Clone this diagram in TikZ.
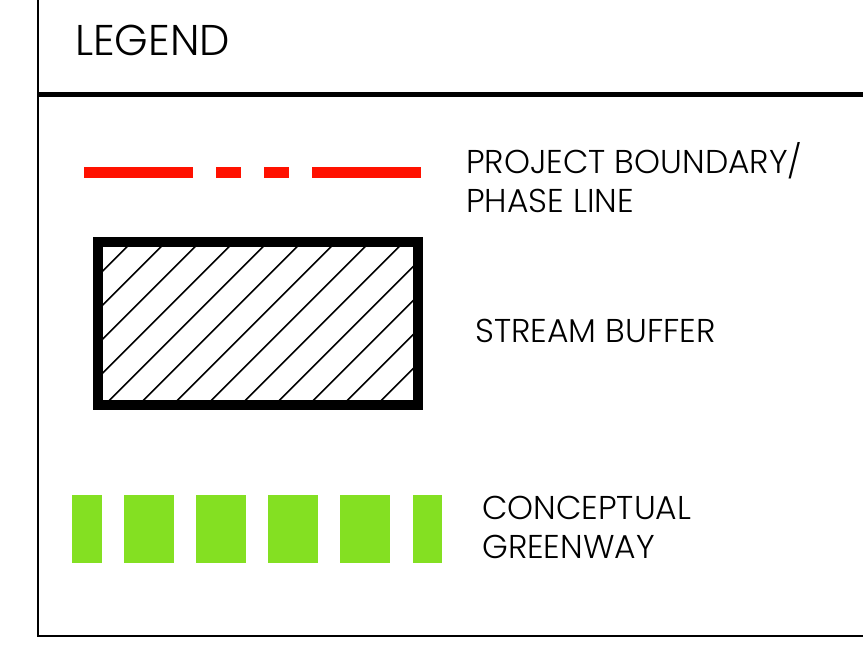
\documentclass[tikz,border=0pt]{standalone}
\usepackage{fontspec}
\setmainfont{Poppins}[UprightFont=* Light]
\definecolor{bndred}{RGB}{255,17,0}
\definecolor{green}{RGB}{132,224,34}
\begin{document}
\begin{tikzpicture}[x=1pt,y=-1pt,
  frame/.style={line width=2pt,black},
  redseg/.style={fill=bndred},
  greenseg/.style={fill=green},
  hatch/.style={line width=1.5pt,black},
  lbl/.style={anchor=base west,inner sep=0pt,font=\fontsize{33}{33}\selectfont},
  title/.style={anchor=base west,inner sep=0pt,font=\fontsize{43}{43}\selectfont}]
\useasboundingbox (0,0) rectangle (863,646);
% frame
\draw[frame] (38,0) -- (38,635.5) -- (863,635.5);
\draw[line width=5pt] (38,94.5) -- (863,94.5);
\node[title] (legend) at (75,55) {LEGEND};
% red boundary
\fill[redseg] (84,167) rectangle (193,178);
\fill[redseg] (216,167) rectangle (241,178);
\fill[redseg] (264,167) rectangle (289,178);
\fill[redseg] (312,167) rectangle (421,178);
\node[lbl] (pb1) at (466,173) {PROJECT BOUNDARY/};
\node[lbl] (pb2) at (466,212) {PHASE LINE};
% hatched buffer
\begin{scope}
\clip (98,242) rectangle (418,405);
\foreach \k in {-1,...,13} {
  \pgfmathsetmacro{\c}{373.7+34*\k}
  \draw[hatch] (\c-410,410) -- (\c-237,237);
}
\end{scope}
\draw[line width=10pt] (98,242) rectangle (418,405);
\node[lbl] (sb) at (475,342) {STREAM BUFFER};
% greenway
\fill[greenseg] (72,495) rectangle (102,563);
\fill[greenseg] (124,495) rectangle (174,563);
\fill[greenseg] (196,495) rectangle (246,563);
\fill[greenseg] (268,495) rectangle (318,563);
\fill[greenseg] (340,495) rectangle (390,563);
\fill[greenseg] (413,495) rectangle (442,563);
\node[lbl] (cg1) at (482,519) {CONCEPTUAL};
\node[lbl] (cg2) at (482,558) {GREENWAY};
\end{tikzpicture}
\end{document}
